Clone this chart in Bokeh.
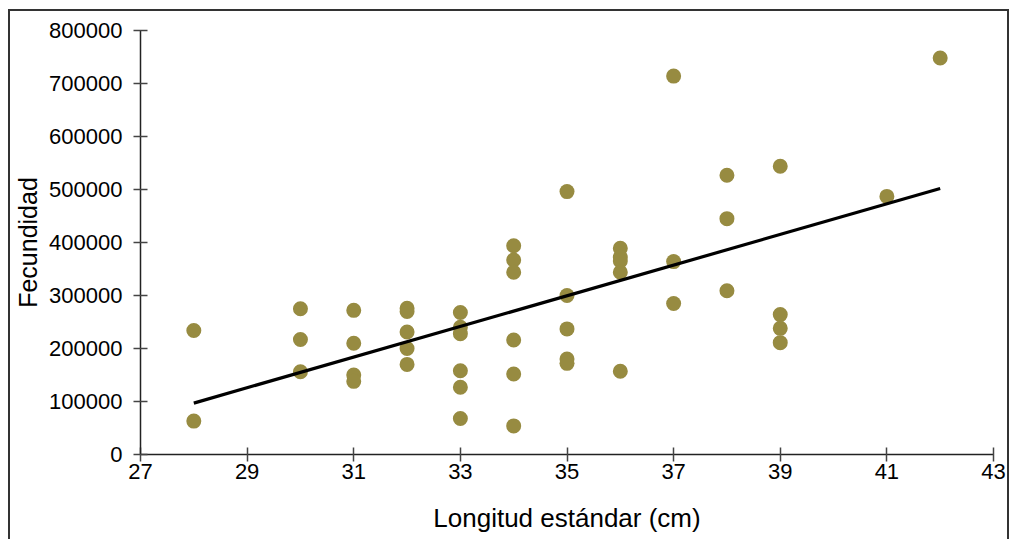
from bokeh.plotting import figure
from bokeh.models import BasicTickFormatter, FixedTicker
from bokeh.embed import file_html
from bokeh.resources import INLINE

# Data
longitud = [28, 28,
            30, 30, 30,
            31, 31, 31, 31,
            32, 32, 32, 32, 32,
            33, 33, 33, 33, 33, 33,
            34, 34, 34, 34, 34, 34,
            35, 35, 35, 35, 35,
            36, 36, 36, 36, 36,
            37, 37, 37,
            38, 38, 38,
            39, 39, 39, 39,
            41,
            42]
fecundidad = [234000, 63000,
              275000, 217000, 156000,
              272000, 210000, 150000, 138000,
              276000, 270000, 231000, 200000, 170000,
              268000, 240000, 228000, 158000, 127000, 68000,
              394000, 367000, 344000, 216000, 152000, 54000,
              496000, 300000, 237000, 180000, 172000,
              389000, 372000, 365000, 344000, 157000,
              714000, 364000, 285000,
              527000, 445000, 309000,
              544000, 264000, 238000, 211000,
              487000,
              748000]

trend_x = [28, 42]
trend_y = [97000, 502000]

x_ticks = [27, 29, 31, 33, 35, 37, 39, 41, 43]
y_ticks = [0, 100000, 200000, 300000, 400000, 500000, 600000, 700000, 800000]

p = figure(frame_width=853, frame_height=424,
           x_range=(27, 43), y_range=(0, 800000),
           output_backend="svg", toolbar_location=None,
           min_border_left=130, min_border_top=19,
           min_border_right=14, min_border_bottom=85)

p.styles = {"border-left": "2px solid #333", "border-top": "2px solid #333",
            "border-right": "2px solid #333", "margin-left": "8px", "margin-top": "9px"}

p.grid.visible = False
p.outline_line_color = None
p.background_fill_color = "white"
p.border_fill_color = "white"

p.xaxis.ticker = FixedTicker(ticks=x_ticks)
p.yaxis.ticker = FixedTicker(ticks=y_ticks)
p.yaxis.formatter = BasicTickFormatter(use_scientific=False)

for ax in (p.xaxis, p.yaxis):
    ax.axis_line_color = "#222222"
    ax.axis_line_width = 1.5
    ax.major_tick_line_color = "#444444"
    ax.major_tick_line_width = 1.5
    ax.major_tick_in = 7
    ax.major_tick_out = 7
    ax.minor_tick_line_color = None
    ax.major_label_text_font = "Liberation Sans"
    ax.major_label_text_font_size = "22px"
    ax.major_label_text_color = "black"
    ax.axis_label_text_font = "Liberation Sans"
    ax.axis_label_text_font_size = "25px"
    ax.axis_label_text_font_style = "normal"
    ax.axis_label_text_color = "black"

p.xaxis.axis_label = "Longitud estándar (cm)"
p.xaxis.axis_label_text_font_size = "26px"
p.yaxis.axis_label = "Fecundidad"
p.xaxis.major_label_standoff = 2
p.yaxis.major_label_standoff = 11
p.xaxis.axis_label_standoff = 21
p.yaxis.axis_label_standoff = 4

p.scatter(longitud, fecundidad, size=15, fill_color="#978b41", line_color=None)
p.line(trend_x, trend_y, line_width=3.2, line_color="black")

open("out.html", "w").write(file_html(p, INLINE))
